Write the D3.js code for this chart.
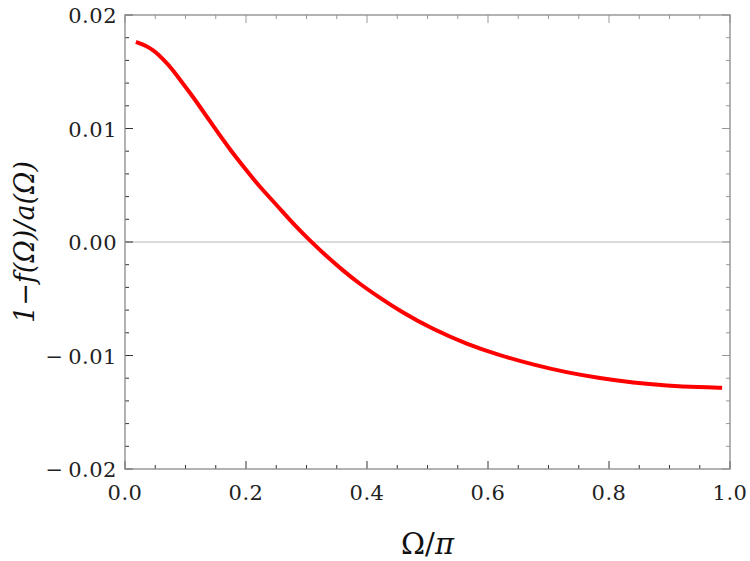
<!DOCTYPE html>
<html>
<head>
<meta charset="utf-8">
<script src="https://cdn.jsdelivr.net/npm/d3@7"></script>
<style>
  body { margin: 0; background: #fff; }
  svg { display: block; }
  .tick-label { font-family: "DejaVu Serif", "Liberation Serif", serif; font-size: 21px; fill: #222; letter-spacing: 0.5px; }
  .title { font-family: "DejaVu Serif", "Liberation Serif", serif; fill: #111; }
</style>
</head>
<body>
<script>
// curve
var omega = [0.018, 0.030, 0.041, 0.052, 0.063, 0.077, 0.091, 0.105, 0.119, 0.146, 0.174, 0.201, 0.222, 0.250,
             0.278, 0.308, 0.334, 0.360, 0.388, 0.421, 0.455, 0.509, 0.565, 0.620,
             0.674, 0.730, 0.785, 0.840, 0.896, 0.950, 0.987];
var ratio = [0.01762, 0.0174, 0.0171, 0.01668, 0.0161, 0.0153, 0.0143, 0.0133, 0.0123, 0.0102, 0.0081, 0.0063, 0.0049, 0.0033,
             0.0016, 0.0, -0.0013, -0.0025, -0.0037, -0.0049, -0.0061, -0.0077, -0.0090, -0.0100,
             -0.0108, -0.0115, -0.0120, -0.0124, -0.01265, -0.0128, -0.01285];

var xTicks = [0, 0.2, 0.4, 0.6, 0.8, 1.0];
var yTicks = [-0.02, -0.01, 0, 0.01, 0.02];

let w = 750;
let h = 561;
let m = {left: 125, right: 20, top: 15, bottom: 92};

var svg = d3.select("body")
  .append("svg")
  .attr("width", w)
  .attr("height", h);

let xScale = d3.scaleLinear().domain([0, 1]).range([m.left, w - m.right]);
let yScale = d3.scaleLinear().domain([-0.02, 0.02]).range([h - m.bottom, m.top]);

let x0 = xScale(0), x1 = xScale(1), y0 = yScale(-0.02), y1 = yScale(0.02);

// zero line
svg.append("line")
  .attr("x1", x0).attr("x2", x1)
  .attr("y1", yScale(0)).attr("y2", yScale(0))
  .attr("stroke", "#b8b8b8").attr("stroke-width", 1);

// minor + major ticks on all four sides, pointing inward
let xMinor = d3.range(0, 1.0001, 0.05);
let yMinor = d3.range(-0.02, 0.02001, 0.002);
function isMajor(v, step) { return Math.abs(v / step - Math.round(v / step)) < 1e-6; }

var ticks = svg.append("g").attr("stroke", "#333").attr("stroke-width", 1);
xMinor.forEach(function(v) {
  let len = isMajor(v, 0.2) ? 8 : 4;
  ticks.append("line").attr("x1", xScale(v)).attr("x2", xScale(v)).attr("y1", y0).attr("y2", y0 - len);
  ticks.append("line").attr("x1", xScale(v)).attr("x2", xScale(v)).attr("y1", y1).attr("y2", y1 + len)
    .attr("stroke", "#999");
});
yMinor.forEach(function(v) {
  let len = isMajor(v, 0.01) ? 8 : 4;
  ticks.append("line").attr("y1", yScale(v)).attr("y2", yScale(v)).attr("x1", x0).attr("x2", x0 + len);
  ticks.append("line").attr("y1", yScale(v)).attr("y2", yScale(v)).attr("x1", x1).attr("x2", x1 - len)
    .attr("stroke", "#999");
});

// frame
svg.append("rect")
  .attr("x", x0).attr("y", y1)
  .attr("width", x1 - x0).attr("height", y0 - y1)
  .attr("fill", "none").attr("stroke", "#8a8a8a").attr("stroke-width", 1.3);

// tick labels
svg.selectAll(".xlab")
  .data(xTicks)
  .enter()
  .append("text")
  .attr("class", "tick-label")
  .attr("x", function(d){ return xScale(d); })
  .attr("y", y0 + 31)
  .attr("text-anchor", "middle")
  .text(function(d){ return d3.format(".1f")(d); });

svg.selectAll(".ylab")
  .data(yTicks)
  .enter()
  .append("text")
  .attr("class", "tick-label")
  .attr("x", x0 - 8)
  .attr("y", function(d){ return yScale(d) + 8; })
  .attr("text-anchor", "end")
  .text(function(d){
    let s = d3.format(".2f")(Math.abs(d));
    return d < 0 ? "\u2212\u2009" + s : s;
  });

// the curve
let line = d3.line()
  .x(function(d, i){ return xScale(omega[i]); })
  .y(function(d){ return yScale(d); })
  .curve(d3.curveBasis);

svg.append("path")
  .datum(ratio)
  .attr("d", line)
  .attr("fill", "none")
  .attr("stroke", "#ff0000")
  .attr("stroke-width", 4)
  .attr("stroke-linecap", "butt");

// axis titles
var xt = svg.append("text")
  .attr("class", "title")
  .attr("x", (x0 + x1) / 2)
  .attr("y", 554)
  .attr("text-anchor", "middle")
  .attr("font-size", 29);
xt.append("tspan").text("\u03A9/");
xt.append("tspan").attr("font-style", "italic").text("\u03C0");

var yt = svg.append("text")
  .attr("class", "title")
  .attr("transform", "translate(34," + yScale(0) + ") rotate(-90)")
  .attr("text-anchor", "middle")
  .attr("font-size", 27);
yt.append("tspan").attr("font-style", "italic").text("1");
yt.append("tspan").text("\u2212");
yt.append("tspan").attr("font-style", "italic").text("f(\u03A9)/a(\u03A9)");
</script>
</body>
</html>
